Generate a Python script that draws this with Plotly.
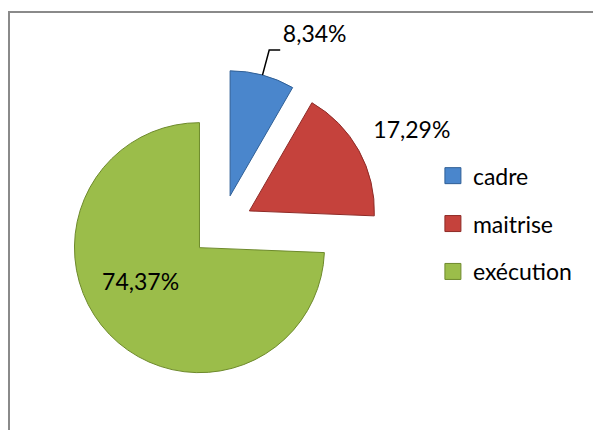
import math
import plotly.graph_objects as go

# categories and shares (%)
categories = ['cadre', 'maitrise', 'exécution']
values = [8.34, 17.29, 74.37]
labels_txt = ['8,34%', '17,29%', '74,37%']
colors = ['#4a86cc', '#c5423c', '#9bbd4a']
edge_colors = ['#2f5f96', '#8e2a26', '#6e8a2c']

W, H = 601, 430
PULL = 0.25
# pie box in pixels (centre and size), plotly radius = size / (2 * (1 + pull))
cx, cy, box = 214, 218, 312.5
r = box / (2 * (1 + PULL))

NB = '\u00a0'
# padding so plotly places the labels roughly where Excel did
pie_text = [
    NB + labels_txt[0] + '<br>' + NB,
    labels_txt[1] + '<br>' + NB,
    labels_txt[2] + NB * 20,
]

fig = go.Figure()

fig.add_trace(go.Pie(
    labels=categories,
    values=values,
    text=pie_text,
    textinfo='text',
    textposition=['outside', 'outside', 'inside'],
    insidetextorientation='horizontal',
    textfont=dict(family='Lato', size=23, color='black'),
    sort=False,
    direction='clockwise',
    rotation=0,
    pull=[PULL] * 3,
    marker=dict(colors=colors, line=dict(color=edge_colors, width=1)),
    domain=dict(x=[(cx - box / 2) / W, (cx + box / 2) / W],
                y=[(H - cy - box / 2) / H, (H - cy + box / 2) / H]),
    showlegend=False,
    hoverinfo='label+percent',
))

# legend entries (spaced like the original)
for name, col, edge in zip(categories, colors, edge_colors):
    fig.add_trace(go.Scatter(
        x=[None], y=[None], mode='markers', name=name, legendgroup=name,
        marker=dict(symbol='square', size=16, color=col, line=dict(color=edge, width=1)),
    ))

# leader line for the small "cadre" slice, from the middle of its arc
theta = math.radians(values[0] / sum(values) * 360 / 2)
p0 = (cx + r * (1 + PULL) * math.sin(theta), cy - r * (1 + PULL) * math.cos(theta))
p1 = (p0[0] + 26 * math.sin(theta), p0[1] - 26 * math.cos(theta))
p2 = (p1[0] + 11, p1[1])
leader = 'M {} {} L {} {} L {} {}'.format(
    p0[0] / W, 1 - p0[1] / H, p1[0] / W, 1 - p1[1] / H, p2[0] / W, 1 - p2[1] / H)

fig.update_layout(
    width=W, height=H,
    margin=dict(l=0, r=0, t=0, b=0, autoexpand=False),
    paper_bgcolor='white', plot_bgcolor='white',
    xaxis=dict(visible=False), yaxis=dict(visible=False),
    font=dict(family='Lato', size=23, color='black'),
    legend=dict(x=0.707, y=0.660, xanchor='left', yanchor='top',
                tracegroupgap=15, itemwidth=30,
                font=dict(family='Lato', size=23, color='black')),
    shapes=[
        dict(type='rect', xref='paper', yref='paper',
             x0=1 / W, x1=1.05, y0=-0.05, y1=1 - 4 / H,
             line=dict(color='#8a8a8a', width=2)),
        dict(type='path', xref='paper', yref='paper', path=leader,
             line=dict(color='black', width=1.5)),
    ],
)

fig.write_html("out.html")
